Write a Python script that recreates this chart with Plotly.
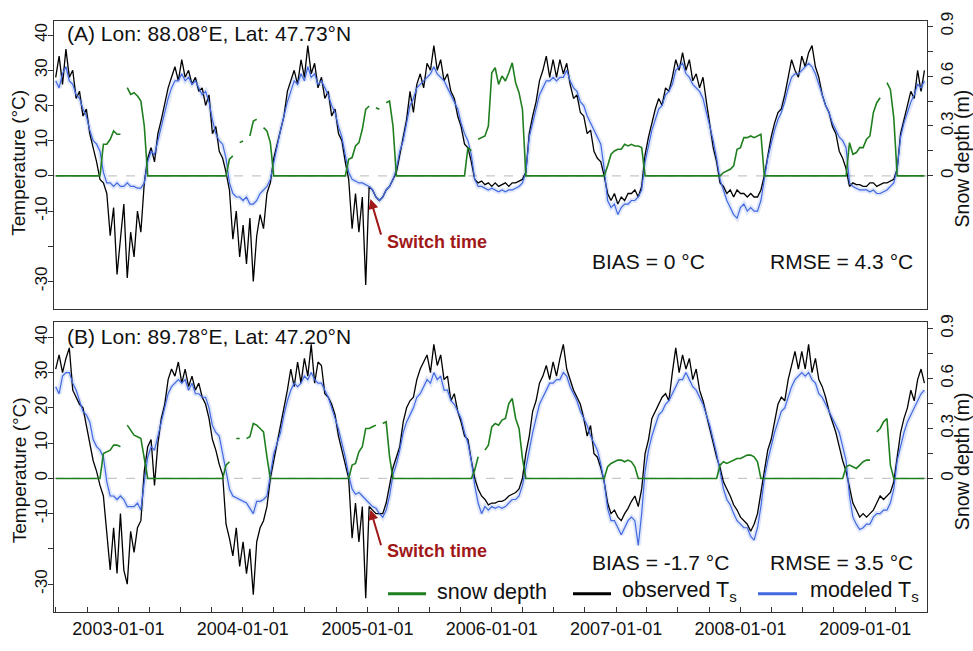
import pandas as pd
import plotly.graph_objects as go

# ---------------- data (10-day samples) ----------------
START_DATE = "2002-07-01"
STEP = "10D"

A_OBS = [28, 34, 26, 36, 28, 30, 22, 24, 17, 19,
         12, 8, 4, -1, -2, -5, -17, -9, -28, -18,
         -8, -29, -16, -23, -10, -16, -2, 5, 8, 4,
         12, 16, 21, 25, 28, 31, 27, 33, 28, 30,
         26, 28, 24, 25, 20, 23, 12, 14, 7, 5,
         1, -4, -18, -10, -23, -14, -25, -12, -30, -17,
         -11, -15, -5, -2, 5, 9, 13, 17, 24, 27,
         30, 26, 33, 28, 37, 29, 32, 25, 28, 22,
         24, 17, 19, 12, 10, 4, -1, -15, -5, -16,
         -6, -31, -3, -4, -6, -7, -6, -4, -3, -1,
         1, 6, 11, 16, 24, 18, 26, 29, 25, 32,
         30, 37, 30, 33, 27, 29, 24, 22, 17, 14,
         9, 8, 4, -1, -2, -1.5, -2.5, -2, -3, -2,
         -3, -2.5, -2, -3, -2, -2, -1.5, -1, 1, 12,
         17, 21, 27, 30, 34, 28, 33, 28, 33, 29,
         32, 26, 22, 23, 18, 17, 12, 13, 7, 5,
         4, 0, -5, -7, -5, -8, -6, -7, -5, -5,
         -4, -6, -3, 6, 11, 15, 19, 22, 20, 25,
         24, 28, 33, 30, 35, 30, 33, 27, 29, 25,
         28, 21, 14, 8, 4, -2, -3, -5, -4, -6,
         -4, -5, -5, -6, -5, -6, -6, -4, 0, 6,
         11, 15, 18, 19, 23, 28, 33, 30, 28, 34,
         31, 35, 37, 31, 28, 23, 20, 18, 14, 12,
         7, 5, 2, -3, -2, -2.5, -2.5, -3, -3, -2,
         -2, -3, -2.5, -2, -2, -1.5, -1, 2, 12, 16,
         20, 24, 22, 30, 24, 30]

A_MOD = [27, 25, 29, 31, 27, 26, 23, 22, 19, 17,
         13, 10, 9, 7, 1, -2, -2, -3, -2, -3,
         -3, -2, -3, -3, -3.5, -3.5, -2, 4, 7, 6,
         10, 14, 18, 22, 25, 27, 27, 29, 27, 28,
         26, 27, 25, 23, 24, 21, 16, 12, 10, 9,
         5, -2, -5, -6, -6, -7, -6, -8, -8, -7,
         -5, -4, -3, -1, 4, 9, 13, 17, 21, 24,
         27, 26, 29, 27, 31, 28, 29, 26, 27, 25,
         23, 20, 18, 14, 11, 6, 1, -1, -1.5, -2,
         -2, -2.5, -3, -4, -6, -7, -6, -4, -3, -1,
         2, 7, 10, 15, 20, 22, 25, 26, 27, 28,
         29, 31, 29, 28, 27, 25, 23, 21, 19, 15,
         12, 10, 6, -1, -3, -3, -3.5, -4, -3.5, -4,
         -4.5, -4, -4.5, -4, -4, -3.5, -3, -2, 1, 11,
         15, 19, 23, 25, 27, 27, 28, 27, 28, 28,
         30, 27, 25, 24, 21, 20, 17, 15, 13, 11,
         9, 2, -7, -9, -8, -11, -9, -8, -8, -7,
         -7, -6, -4, 4, 9, 13, 16, 19, 20, 23,
         24, 26, 30, 31, 32, 29, 28, 26, 25, 24,
         22, 18, 14, 10, 5, -1, -4, -7, -9, -11,
         -12, -9, -8, -10, -9, -10, -10, -7, -1, 5,
         9, 13, 16, 18, 21, 25, 28, 29, 29, 30,
         31, 32, 31, 29, 26, 23, 20, 18, 15, 13,
         11, 10, 8, -2, -3, -3.5, -4, -4, -4, -4.5,
         -4, -5, -5, -4.5, -4, -3, -2, 2, 11, 15,
         18, 21, 23, 26, 25, 27]

A_SNOW = [0, 0, 0, 0, 0, 0, 0, 0, 0, 0, 0, 0, 0, 0,
          0.19, 0.19, 0.22, 0.27, 0.25, 0.25, None, 0.53, 0.49, 0.5, 0.48, 0.45, 0.3, 0,
          0, 0, 0, 0, 0, 0, 0, 0, 0, 0, 0, 0, 0, 0, 0, 0, 0, 0, 0, 0, 0, 0, 0,
          0.1, 0.12, None, 0.2, 0.21, None, 0.24, 0.33, 0.34, None, 0.29, 0.27, 0.2, 0,
          0, 0, 0, 0, 0, 0, 0, 0, 0, 0, 0, 0, 0, 0, 0, 0, 0, 0, 0, 0, 0,
          0.1, 0.11, 0.18, 0.2, 0.28, 0.4, 0.42, None, 0.41, 0.4, None, 0.44, 0.45, 0.3, 0,
          0, 0, 0, 0, 0, 0, 0, 0, 0, 0, 0, 0, 0, 0, 0, 0, 0, 0, 0, 0,
          0.17, 0.15, None, 0.22, 0.23, 0.24, 0.3, 0.62, 0.65, 0.55, 0.6, 0.57, 0.62, 0.68, 0.56, 0.5, 0.4, 0,
          0, 0, 0, 0, 0, 0, 0, 0, 0, 0, 0, 0, 0, 0, 0, 0, 0, 0, 0, 0, 0, 0, 0,
          0.06, 0.13, 0.15, 0.16, 0.16, 0.19, 0.18, 0.19, 0.18, 0.18, 0.17, 0,
          0, 0, 0, 0, 0, 0, 0, 0, 0, 0, 0, 0, 0, 0, 0, 0, 0, 0, 0, 0, 0, 0,
          0.02, 0.03, 0.04, 0.06, 0.16, 0.17, 0.23, 0.23, 0.24, 0.23, 0.24, 0.25, 0,
          0, 0, 0, 0, 0, 0, 0, 0, 0, 0, 0, 0, 0, 0, 0, 0, 0, 0, 0, 0, 0, 0, 0, 0,
          0.2, 0.13, 0.14, 0.17, 0.17, 0.22, 0.24, 0.38, 0.44, 0.47, None, 0.56, 0.52, 0.35, 0,
          0, 0, 0, 0, 0, 0, 0, 0]

B_OBS = [31, 35, 30, 34, 37, 25, 23, 21, 20, 15,
         11, 5, 2, -2, -5, -15, -26, -14, -27, -10,
         -26, -30, -15, -21, -14, -12, 2, 9, 11, -2,
         10, 17, 21, 28, 31, 29, 33, 27, 31, 26,
         29, 25, 27, 23, 21, 17, 11, 8, 4, 1,
         -13, -17, -22, -14, -25, -18, -27, -20, -33, -18,
         -14, -12, -8, 0, 5, 10, 15, 19, 25, 31,
         26, 33, 27, 34, 29, 38, 27, 33, 32, 24,
         23, 21, 18, 12, 8, 4, 0, -17, -7, -18,
         -8, -34, -8, -9, -10, -10, -10, -7, -2, 3,
         6, 9, 16, 20, 22, 23, 28, 31, 33, 35,
         30, 38, 32, 35, 28, 29, 22, 24, 19, 16,
         12, 11, 5, 0, -3, -5, -6, -7.5, -7, -7,
         -6.5, -6.5, -6, -5, -4.5, -4, -3, 0, 7, 12,
         19, 22, 27, 29, 32, 28, 33, 29, 34, 38,
         31, 28, 25, 23, 21, 17, 12, 15, 7, 6,
         3, -1, -7, -10, -9, -11, -12, -10, -8.5, -6.5,
         -5, -8, -3, 7, 11, 17, 19, 21, 23, 24,
         22, 30, 37, 30, 35, 31, 34, 28, 31, 25,
         22, 18, 14, 10, 6, 3, -1, -3, -5, -7.5,
         -9, -11, -12, -13, -15, -13, -10, -4, 2, 8,
         11, 16, 21, 23, 22, 28, 32, 36, 31, 36,
         31, 38, 30, 34, 28, 26, 23, 19, 16, 13,
         9, 5, 2, -3, -7, -9, -11, -10, -11, -10,
         -9, -7, -5, -6, -5, -4, -1, 6, 13, 17,
         20, 25, 22, 28, 31, 27]

B_MOD = [26, 24, 29, 30, 30, 27, 25, 22, 19, 18,
         16, 11, 9, 8, 6, -1, -5, -5, -6, -5,
         -6, -8, -8, -8, -7, -9, -1, 6, 9, 8,
         12, 16, 20, 24, 26, 27, 28, 27, 28, 25,
         27, 24, 24, 23, 23, 20, 15, 13, 12, 7,
         2, -3, -5, -5.5, -6, -6.5, -7, -8.5, -10, -6.5,
         -6.5, -6, -5, 1, 7, 10, 13, 18, 22, 25,
         27, 26, 27, 29, 28, 30, 28, 27, 27, 25,
         23, 20, 17, 14, 10, 6, 1, -3, -4.5, -4,
         -5, -6, -7, -8, -8.5, -10, -11, -9, -5, 1,
         4, 8, 13, 16, 18, 20, 23, 24, 26, 28,
         27, 30, 28, 29, 25, 25, 22, 21, 19, 17,
         13, 10, 5, -2, -7, -10, -8, -9, -8, -8.5,
         -8, -8.5, -8, -7, -6, -6, -5, -2, 3, 9,
         13, 17, 21, 23, 25, 27, 27, 28, 28, 30,
         29, 26, 24, 22, 19, 17, 15, 12, 10, 8,
         4, -1, -8.5, -12, -12, -14, -16, -14, -12, -11,
         -12, -19, -10, 2, 8, 12, 15, 18, 19, 21,
         22, 24, 26, 28, 28, 30, 28, 26, 25, 23,
         21, 18, 15, 11, 7, 2, -3, -6, -7.5, -10,
         -12, -13, -14, -14, -16.5, -17.5, -14, -8, 0, 5,
         9, 13, 16, 19, 20, 23, 26, 28, 29, 30,
         29, 30, 28, 27, 24, 23, 21, 19, 17, 15,
         13, 9, 5, -5, -11, -13, -14.5, -14, -13, -13,
         -11, -10, -10, -9, -9, -7, -3, 5, 9, 13,
         16, 18, 20, 22, 24, 25]

B_SNOW = [0, 0, 0, 0, 0, 0, 0, 0, 0, 0, 0, 0, 0, 0,
          0.15, 0.16, 0.17, 0.2, 0.2, 0.19, None, 0.32, 0.29, 0.26, 0.25, 0.24, 0.12, 0,
          0, 0, 0, 0, 0, 0, 0, 0, 0, 0, 0, 0, 0, 0, 0, 0, 0, 0, 0, 0, 0, 0,
          0.08, 0.1, None, 0.24, 0.24, None, 0.24, 0.25, 0.33, 0.32, 0.3, 0.28, 0.13, 0, 0,
          0, 0, 0, 0, 0, 0, 0, 0, 0, 0, 0, 0, 0, 0, 0, 0, 0, 0, 0, 0, 0, 0,
          0.08, 0.09, 0.16, 0.19, 0.3, 0.3, 0.31, 0.32, None, 0.33, 0.34, 0.13, 0,
          0, 0, 0, 0, 0, 0, 0, 0, 0, 0, 0, 0, 0, 0, 0, 0, 0, 0, 0, 0, 0, 0, 0,
          0.05, 0.13, None, 0.17, 0.2, 0.31, 0.33, 0.32, 0.35, 0.36, 0.45, 0.48, 0.36, 0.3, 0.12, 0,
          0, 0, 0, 0, 0, 0, 0, 0, 0, 0, 0, 0, 0, 0, 0, 0, 0, 0, 0, 0, 0, 0, 0,
          0.07, 0.09, 0.1, 0.11, 0.11, 0.1, 0.11, 0.1, 0.07, 0, 0,
          0, 0, 0, 0, 0, 0, 0, 0, 0, 0, 0, 0, 0, 0, 0, 0, 0, 0, 0, 0, 0, 0,
          0.08, 0.1, 0.09, 0.1, 0.11, 0.12, 0.12, 0.13, 0.14, 0.14, 0.13, 0.1, 0,
          0, 0, 0, 0, 0, 0, 0, 0, 0, 0, 0, 0, 0, 0, 0, 0, 0, 0, 0, 0, 0, 0, 0, 0,
          0.07, 0.08, 0.07, 0.06, 0.08, 0.1, 0.11, 0.11, None, 0.28, 0.3, 0.34, 0.36, 0.08, 0,
          0, 0, 0, 0, 0, 0, 0, 0, 0]

YEAR_TICKS = ["2003-01-01", "2004-01-01", "2005-01-01", "2006-01-01",
              "2007-01-01", "2008-01-01", "2009-01-01"]
TEMP_TICKS = [-30, -20, -10, 0, 10, 20, 30, 40]
TEMP_LABELS = ["-30", "", "-10", "0", "10", "20", "30", "40"]
SNOW_TICKS = [0, 0.15, 0.3, 0.45, 0.6, 0.75, 0.9]
SNOW_LABELS = ["0", "", "0.3", "", "0.6", "", "0.9"]

SITE_A = "(A) Lon: 88.08°E, Lat: 47.73°N"
SITE_B = "(B) Lon: 89.78°E, Lat: 47.20°N"
STATS_A = ("BIAS = 0 °C", "RMSE = 4.3 °C")
STATS_B = ("BIAS = -1.7 °C", "RMSE = 3.5 °C")
SWITCH_DATE = "2005-01-10"
SWITCH_T_A = -6.6
SWITCH_T_B = -8.9

for s in (A_OBS, A_MOD, A_SNOW, B_OBS, B_MOD, B_SNOW):
    assert len(s) == len(A_OBS), len(s)

dates = pd.date_range(START_DATE, periods=len(A_OBS), freq=STEP)

# ---------------- styling / layout ----------------
W, H = 973, 651
ML, MR, MT, MB = 54, 46, 13, 23
PW, PH = W - ML - MR, H - MT - MB


def px(x):
    return (x - ML) / PW


def py(y):
    return (H - MB - y) / PH


FONT = "Liberation Sans, Arial, sans-serif"
BLACK = "#000000"
BLUE = "#4169E1"
GREEN = "#1F7F1F"
RED = "#A01818"
FRAME = "#333333"
XRANGE = ["2002-06-26", "2009-07-01 12:00"]

fig = go.Figure()


def add_panel(obs, mod, snow, xa, ya, ya2):
    fig.add_trace(go.Scatter(x=dates, y=mod, mode="lines", xaxis=xa, yaxis=ya,
                             line=dict(color="rgba(65,105,225,0.16)", width=5),
                             hoverinfo="skip", showlegend=False))
    fig.add_trace(go.Scatter(x=dates, y=obs, mode="lines", xaxis=xa, yaxis=ya,
                             line=dict(color=BLACK, width=1.3),
                             name="observed Ts", showlegend=False))
    fig.add_trace(go.Scatter(x=dates, y=mod, mode="lines", xaxis=xa, yaxis=ya,
                             line=dict(color=BLUE, width=1.2),
                             name="modeled Ts", showlegend=False))
    fig.add_trace(go.Scatter(x=dates, y=snow, mode="lines", xaxis=xa, yaxis=ya2,
                             line=dict(color=GREEN, width=1.6), connectgaps=False,
                             name="snow depth", showlegend=False))


add_panel(A_OBS, A_MOD, A_SNOW, "x", "y", "y2")
add_panel(B_OBS, B_MOD, B_SNOW, "x2", "y3", "y4")

tickfont = dict(family=FONT, size=17, color="#111111")
xtickfont = dict(family=FONT, size=18, color="#111111")
frame = dict(showline=True, linecolor=FRAME, linewidth=1, showgrid=False, zeroline=False)

quarters = pd.date_range("2002-07-01", "2009-07-01", freq="QS")

fig.update_layout(
    width=W, height=H,
    margin=dict(l=ML, r=MR, t=MT, b=MB, pad=0),
    paper_bgcolor="white", plot_bgcolor="white",
    showlegend=False,
    font=dict(family=FONT, color="#111111"),
    xaxis=dict(domain=[0, 1], anchor="y", type="date", range=XRANGE,
               showticklabels=False, ticks="", mirror=True, **frame),
    yaxis=dict(domain=[py(313), 1], anchor="x", range=[-37.9, 44.0],
               tickmode="array", tickvals=TEMP_TICKS, ticktext=TEMP_LABELS,
               tickangle=-90, ticks="outside", ticklen=5, tickcolor=FRAME,
               ticklabelstandoff=-6,
               tickfont=tickfont, mirror=True, **frame),
    yaxis2=dict(overlaying="y", side="right", anchor="x", range=[-0.802, 0.931],
                tickmode="array", tickvals=SNOW_TICKS, ticktext=SNOW_LABELS,
                tickangle=-90, ticks="outside", ticklen=5, tickcolor=FRAME,
                tickfont=tickfont, **frame),
    xaxis2=dict(domain=[0, 1], anchor="y3", type="date", range=XRANGE,
                tickmode="array", tickvals=YEAR_TICKS, ticktext=YEAR_TICKS,
                ticks="inside", ticklen=5, tickcolor=FRAME, tickfont=xtickfont,
                minor=dict(tickmode="array", tickvals=list(quarters), ticks="inside",
                           ticklen=5, tickcolor=FRAME),
                mirror=True, **frame),
    yaxis3=dict(domain=[0, py(326)], anchor="x2", range=[-37.9, 44.4],
                tickmode="array", tickvals=TEMP_TICKS, ticktext=TEMP_LABELS,
                tickangle=-90, ticks="outside", ticklen=5, tickcolor=FRAME,
                ticklabelstandoff=-6,
                tickfont=tickfont, mirror=True, **frame),
    yaxis4=dict(overlaying="y3", side="right", anchor="x2", range=[-0.802, 0.9406],
                tickmode="array", tickvals=SNOW_TICKS, ticktext=SNOW_LABELS,
                tickangle=-90, ticks="outside", ticklen=5, tickcolor=FRAME,
                tickfont=tickfont, **frame),
)

shapes = []
for yref in ("y", "y3"):
    shapes.append(dict(type="line", xref="paper", x0=0, x1=1, yref=yref, y0=0, y1=0,
                       line=dict(color="#C8C8C8", width=1.3, dash="dash"), layer="below"))
# legend keys
LEG_Y = 609
for (x0, x1, col) in ((388, 426, GREEN), (573, 611, BLACK), (758, 797, BLUE)):
    shapes.append(dict(type="line", xref="paper", yref="paper", x0=px(x0), x1=px(x1),
                       y0=py(LEG_Y), y1=py(LEG_Y), line=dict(color=col, width=3)))
fig.update_layout(shapes=shapes)

ann = []


def text(x, y, s, size, **kw):
    d = dict(xref="paper", yref="paper", x=px(x), y=py(y), text=s, showarrow=False,
             xanchor="left", yanchor="middle", font=dict(family=FONT, size=size, color="#111111"))
    d.update(kw)
    ann.append(d)


text(65, 26, SITE_A, 21)
text(65, 341, SITE_B, 21)
text(590, 263, STATS_A[0], 21)
text(768, 263, STATS_A[1], 21)
text(590, 577, STATS_B[0], 21)
text(768, 577, STATS_B[1], 21)
# axis titles
for yc in (160.5, 480.5):
    text(19, yc, "Temperature (°C)", 19, textangle=-90, xanchor="center")
for yc in (156, 471):
    text(962, yc, "Snow depth (m)", 19.5, textangle=-90, xanchor="center")
# legend labels
text(435, 607, "snow depth", 21.5)
text(620, 607, "observed T<sub>s</sub>", 21.5)
text(808, 607, "modeled T<sub>s</sub>", 21.5)
# switch time
for (yc, xr, yr, tv) in ((243, "x", "y", SWITCH_T_A), (565, "x2", "y3", SWITCH_T_B)):
    ann.append(dict(xref="paper", yref="paper", x=px(385), y=py(yc), text="<b>Switch time</b>",
                    showarrow=False, xanchor="left", yanchor="middle",
                    font=dict(family=FONT, size=18, color=RED)))
    ann.append(dict(xref=xr, yref=yr, x=SWITCH_DATE, y=tv, text="", showarrow=True,
                    ax=11, ay=37, arrowhead=2, arrowsize=1, arrowwidth=2,
                    arrowcolor=RED, standoff=0, startstandoff=0))

fig.update_layout(annotations=ann)
fig.write_html("out.html")
